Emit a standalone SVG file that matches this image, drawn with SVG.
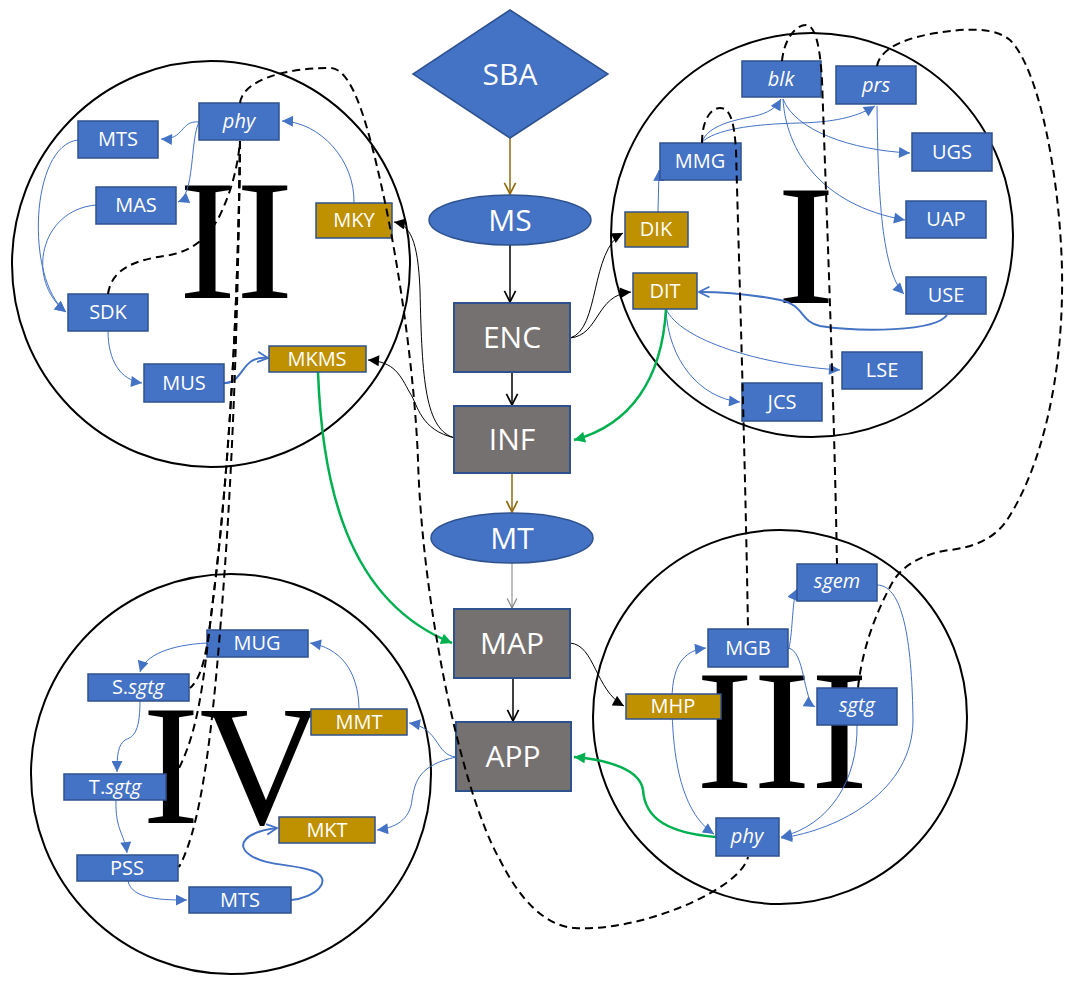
<svg xmlns="http://www.w3.org/2000/svg" width="1069" height="982" viewBox="0 0 1069 982">
<style>
.circ{fill:none;stroke:#000;stroke-width:2}
.num{font-family:"Liberation Serif","Times New Roman",serif;font-size:172px;fill:#000;text-anchor:middle}
.b{fill:#4472C4;stroke:#2F528F;stroke-width:1.5}
.g{fill:#BF9000;stroke:#2F528F;stroke-width:1.5}
.c{fill:#767171;stroke:#2F528F;stroke-width:2}
.t{font-family:"Open Sans","Noto Sans",sans-serif;font-size:20px;fill:#fff;text-anchor:middle}
.ct{font-family:"Open Sans","Noto Sans",sans-serif;font-size:30px;fill:#fff;text-anchor:middle}
.i{font-style:italic}
.lb{fill:none;stroke:#4472C4;stroke-width:1;marker-end:url(#fb)}
.mb{fill:none;stroke:#4472C4;stroke-width:2;marker-end:url(#ob)}
.lk{fill:none;stroke:#000;stroke-width:1;marker-end:url(#fk)}
.gr{fill:none;stroke:#00B050;stroke-width:2.5;marker-end:url(#fg)}
.vk{fill:none;stroke:#000;stroke-width:1.5;marker-end:url(#ok)}
.vg{fill:none;stroke:#8F6A10;stroke-width:1.5;marker-end:url(#og)}
.vs{fill:none;stroke:#808080;stroke-width:1;marker-end:url(#os)}
.d{fill:none;stroke:#000;stroke-width:2;stroke-dasharray:8 5}
</style>
<defs>
<marker id="fb" viewBox="0 0 10 10" refX="10" refY="5" markerWidth="12" markerHeight="11" markerUnits="userSpaceOnUse" orient="auto"><path d="M0,0 L10,5 L0,10 z" fill="#4472C4"/></marker>
<marker id="fk" viewBox="0 0 10 10" refX="10" refY="5" markerWidth="12" markerHeight="11" markerUnits="userSpaceOnUse" orient="auto"><path d="M0,0 L10,5 L0,10 z" fill="#000"/></marker>
<marker id="fg" viewBox="0 0 10 10" refX="10" refY="5" markerWidth="12" markerHeight="11" markerUnits="userSpaceOnUse" orient="auto"><path d="M0,0 L10,5 L0,10 z" fill="#00B050"/></marker>
<marker id="ob" viewBox="0 0 10 10" refX="9" refY="5" markerWidth="13" markerHeight="13" markerUnits="userSpaceOnUse" orient="auto"><path d="M1,1 L9,5 L1,9" fill="none" stroke="#4472C4" stroke-width="1.4"/></marker>
<marker id="ok" viewBox="0 0 10 10" refX="9" refY="5" markerWidth="14" markerHeight="14" markerUnits="userSpaceOnUse" orient="auto"><path d="M1,1 L9,5 L1,9" fill="none" stroke="#000" stroke-width="1.2"/></marker>
<marker id="og" viewBox="0 0 10 10" refX="9" refY="5" markerWidth="14" markerHeight="14" markerUnits="userSpaceOnUse" orient="auto"><path d="M1,1 L9,5 L1,9" fill="none" stroke="#8F6A10" stroke-width="1.2"/></marker>
<marker id="os" viewBox="0 0 10 10" refX="9" refY="5" markerWidth="12" markerHeight="12" markerUnits="userSpaceOnUse" orient="auto"><path d="M1,1 L9,5 L1,9" fill="none" stroke="#808080" stroke-width="1"/></marker>
</defs>
<rect width="1069" height="982" fill="#fff"/>
<g id="regions">
<ellipse class="circ" cx="812" cy="235" rx="201" ry="202"/>
<ellipse class="circ" cx="211" cy="264" rx="199" ry="203"/>
<ellipse class="circ" cx="780" cy="717" rx="187" ry="187"/>
<ellipse class="circ" cx="231" cy="774" rx="200" ry="200"/>
<text class="num" x="236" y="298">II</text>
<text class="num" x="806" y="303">I</text>
<text class="num" x="782" y="788">III</text>
<text class="num" x="233" y="823">IV</text>
</g>
<g id="connectors">
<path class="vg" d="M510,138 L510,194"/>
<path class="vk" d="M510,245 L510,302"/>
<path class="vk" d="M512,372 L512,405"/>
<path class="vg" d="M512,473 L512,512"/>
<path class="vs" d="M512,563 L512,608"/>
<path class="vk" d="M513,678 L513,721"/>
<path class="lb" d="M658,212 L659,170"/>
<path class="lb" d="M702,142 C708,125 735,120 755,116 C768,113 776,108 781,99"/>
<path class="lb" d="M702,142 C715,130 750,124 800,123 C840,122 860,115 875,106"/>
<path class="lb" d="M783,99 C795,130 850,150 910,153"/>
<path class="lb" d="M783,99 C786,150 820,205 905,220"/>
<path class="lb" d="M877,106 C878,180 880,270 904,294"/>
<path class="mb" d="M947,315 C935,332 860,332 820,326 C800,322 805,305 780,300 C750,294 720,292 699,292"/>
<path class="lb" d="M666,309 C680,340 760,365 840,370"/>
<path class="lb" d="M666,309 C668,360 700,398 740,402"/>
<path class="gr" d="M666,309 C662,380 630,425 574,440"/>
<path class="lk" d="M570,338 C600,330 590,250 623,233"/>
<path class="lk" d="M570,338 C600,335 595,295 631,292"/>
<path class="lb" d="M199,122 C180,120 185,140 161,139"/>
<path class="lb" d="M199,122 C190,140 195,195 178,202"/>
<path class="lb" d="M354,203 C355,160 320,122 282,121"/>
<path class="lb" d="M78,140 C30,145 25,280 66,312"/>
<path class="lb" d="M96,205 C40,210 25,280 66,312"/>
<path class="lb" d="M108,331 C108,360 120,380 142,383"/>
<path class="mb" d="M224,383 C245,383 240,355 268,358"/>
<path class="lk" d="M455,438 C425,430 422,380 420,290 C418,240 410,225 394,222"/>
<path class="lk" d="M455,438 C420,430 418,405 410,393 C400,375 395,362 368,360"/>
<path class="gr" d="M318,372 C322,480 345,600 452,643"/>
<path class="lb" d="M456,757 C435,755 440,728 409,723"/>
<path class="lb" d="M456,757 C420,765 415,780 412,800 C410,820 395,828 377,830"/>
<path class="lb" d="M359,708 C358,670 340,648 310,643"/>
<path class="lb" d="M207,643 C170,645 145,655 140,672"/>
<path class="lb" d="M140,701 C140,735 132,737 125,740 C118,745 117,755 117,772"/>
<path class="lb" d="M116,800 C115,830 125,835 127,853"/>
<path class="lb" d="M128,881 C132,900 165,900 187,900"/>
<path class="mb" d="M291,900 C315,898 335,880 313,871 C295,864 265,866 250,855 C235,845 245,832 277,828"/>
<path class="lk" d="M570,643 C595,645 595,690 624,706"/>
<path class="lb" d="M672,700 C672,660 688,650 706,648"/>
<path class="lb" d="M672,700 C672,780 690,818 714,834"/>
<path class="lb" d="M789,648 C793,630 792,600 797,589"/>
<path class="lb" d="M788,648 C805,650 803,700 815,707"/>
<path class="lb" d="M857,725 C858,780 830,825 781,837"/>
<path class="lb" d="M877,585 C905,585 912,650 913,720 C913,790 840,830 781,838"/>
<path class="gr" d="M716,837 C670,833 645,820 643,790 C640,770 610,760 574,757"/>
</g>
<g id="SBA"><path class="b" d="M510,10 L608,74 L510,138 L413,74 Z"/><text class="ct" x="510" y="85">SBA</text></g>
<g id="MS"><ellipse class="b" cx="510" cy="220" rx="81" ry="25"/><text class="ct" x="510" y="231">MS</text></g>
<g id="ENC"><rect class="c" x="454" y="303" width="116" height="69"/><text class="ct" x="512" y="348">ENC</text></g>
<g id="INF"><rect class="c" x="454" y="406" width="116" height="67"/><text class="ct" x="512" y="450">INF</text></g>
<g id="MT"><ellipse class="b" cx="512" cy="538" rx="81" ry="25"/><text class="ct" x="512" y="549">MT</text></g>
<g id="MAP"><rect class="c" x="454" y="609" width="116" height="69"/><text class="ct" x="512" y="654">MAP</text></g>
<g id="APP"><rect class="c" x="456" y="722" width="115" height="69"/><text class="ct" x="513" y="767">APP</text></g>
<g id="I-blk"><rect class="b" x="742" y="61" width="79" height="36"/><text class="t i" x="781" y="86">blk</text></g>
<g id="I-prs"><rect class="b" x="836" y="66" width="80" height="38"/><text class="t i" x="876" y="92">prs</text></g>
<g id="I-MMG"><rect class="b" x="660" y="143" width="81" height="37"/><text class="t" x="700" y="168">MMG</text></g>
<g id="I-UGS"><rect class="b" x="912" y="133" width="80" height="38"/><text class="t" x="952" y="159">UGS</text></g>
<g id="I-UAP"><rect class="b" x="906" y="201" width="80" height="37"/><text class="t" x="946" y="226">UAP</text></g>
<g id="I-USE"><rect class="b" x="906" y="277" width="80" height="37"/><text class="t" x="946" y="302">USE</text></g>
<g id="I-LSE"><rect class="b" x="842" y="352" width="80" height="37"/><text class="t" x="882" y="377">LSE</text></g>
<g id="I-JCS"><rect class="b" x="742" y="383" width="80" height="38"/><text class="t" x="782" y="409">JCS</text></g>
<g id="I-DIK"><rect class="g" x="625" y="212" width="63" height="35"/><text class="t" x="656" y="236">DIK</text></g>
<g id="I-DIT"><rect class="g" x="633" y="273" width="64" height="36"/><text class="t" x="665" y="298">DIT</text></g>
<g id="II-phy"><rect class="b" x="199" y="103" width="80" height="37"/><text class="t i" x="239" y="128">phy</text></g>
<g id="II-MTS"><rect class="b" x="78" y="121" width="80" height="37"/><text class="t" x="118" y="146">MTS</text></g>
<g id="II-MAS"><rect class="b" x="96" y="187" width="80" height="37"/><text class="t" x="136" y="212">MAS</text></g>
<g id="II-MKY"><rect class="g" x="316" y="203" width="76" height="35"/><text class="t" x="354" y="227">MKY</text></g>
<g id="II-SDK"><rect class="b" x="68" y="294" width="80" height="37"/><text class="t" x="108" y="319">SDK</text></g>
<g id="II-MUS"><rect class="b" x="144" y="364" width="80" height="38"/><text class="t" x="184" y="390">MUS</text></g>
<g id="II-MKMS"><rect class="g" x="269" y="346" width="97" height="26"/><text class="t" x="317" y="366">MKMS</text></g>
<g id="IV-MUG"><rect class="b" x="207" y="630" width="101" height="27"/><text class="t" x="257" y="650">MUG</text></g>
<g id="IV-Ssgtg"><rect class="b" x="88" y="674" width="101" height="27"/><text class="t" x="138" y="694">S.<tspan class="i">sgtg</tspan></text></g>
<g id="IV-MMT"><rect class="g" x="311" y="709" width="96" height="26"/><text class="t" x="359" y="729">MMT</text></g>
<g id="IV-Tsgtg"><rect class="b" x="64" y="774" width="102" height="26"/><text class="t" x="115" y="794">T.<tspan class="i">sgtg</tspan></text></g>
<g id="IV-MKT"><rect class="g" x="279" y="817" width="96" height="26"/><text class="t" x="327" y="837">MKT</text></g>
<g id="IV-PSS"><rect class="b" x="77" y="855" width="101" height="26"/><text class="t" x="127" y="875">PSS</text></g>
<g id="IV-MTS"><rect class="b" x="189" y="887" width="102" height="26"/><text class="t" x="240" y="907">MTS</text></g>
<g id="III-sgem"><rect class="b" x="797" y="564" width="80" height="37"/><text class="t i" x="837" y="588">sgem</text></g>
<g id="III-MGB"><rect class="b" x="708" y="629" width="80" height="38"/><text class="t" x="748" y="655">MGB</text></g>
<g id="III-MHP"><rect class="g" x="626" y="694" width="95" height="25"/><text class="t" x="673" y="713">MHP</text></g>
<g id="III-sgtg"><rect class="b" x="817" y="688" width="80" height="37"/><text class="t i" x="857" y="712">sgtg</text></g>
<g id="III-phy"><rect class="b" x="716" y="818" width="63" height="38"/><text class="t i" x="747" y="843">phy</text></g>
<g id="dashed-connectors">
<path class="d" d="M240,103 C243,80 285,68 330,68 C350,68 365,110 383,193 C400,270 415,380 418,460 C422,600 460,790 500,860 C520,900 545,926 575,928 C640,932 740,890 748,857"/>
<path class="d" d="M108,294 C112,268 135,260 170,255 C195,250 210,235 220,215 C232,190 238,165 240,141"/>
<path class="d" d="M240,141 C238,320 228,480 213,600 C208,640 205,675 190,688"/>
<path class="d" d="M240,141 C238,320 228,480 213,600 C203,680 200,740 168,787"/>
<path class="d" d="M240,141 C238,330 232,470 224,580 C215,700 205,820 179,867"/>
<path class="d" d="M702,143 C702,118 712,108 720,108 C730,108 734,120 736,150 C740,300 745,450 748,629"/>
<path class="d" d="M782,61 C784,40 795,25 806,25 C815,25 820,45 822,80 C828,250 834,400 837,564"/>
<path class="d" d="M877,66 C880,50 900,40 930,34 C970,27 995,28 1010,40 C1040,70 1060,180 1062,270 C1064,380 1040,470 1007,520 C995,538 975,547 950,550 C925,553 900,565 890,587 C875,615 862,650 858,688"/>
</g>
</svg>
